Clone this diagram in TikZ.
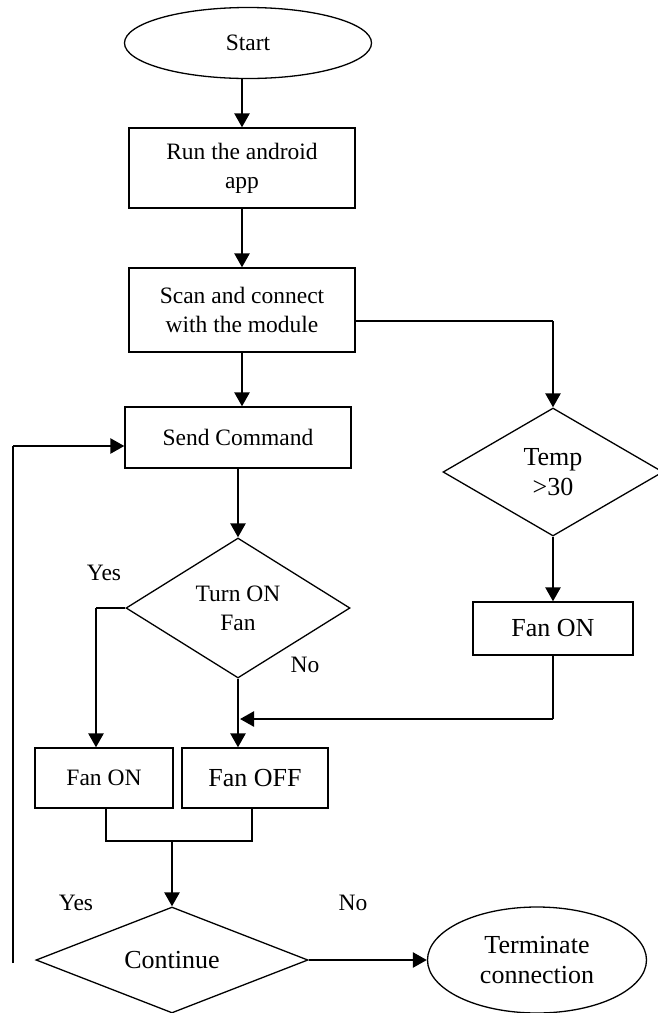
\documentclass[tikz,border=0pt]{standalone}
\usepackage{fontspec}
\setmainfont{Liberation Serif}
\usetikzlibrary{shapes.geometric, arrows.meta}
\newcommand{\flowsmall}{\fontsize{23.5}{29}\selectfont}
\newcommand{\flowlarge}{\fontsize{26}{30}\selectfont}
\tikzset{
  procbox/.style={draw, rectangle, line width=1.3pt, align=center, inner sep=0pt},
  decision/.style={draw, diamond, line width=1.3pt, align=center, inner sep=0pt, aspect=2},
  terminal/.style={draw, ellipse, line width=1.3pt, align=center, inner sep=0pt},
  flowarrow/.style={line width=2.5pt, -{Triangle[length=14pt, width=15pt]}},
  plainline/.style={line width=1.4pt},
  branchlabel/.style={font=\flowsmall, inner sep=0pt}
}

\begin{document}
\begin{tikzpicture}[x=1pt, y=-1pt]
    \useasboundingbox (0,0) rectangle (657,1013);

    % Main column
    \node[terminal, minimum width=247pt, minimum height=71pt, font=\flowsmall]
      (start) at (248,43) {Start};
    \node[procbox, minimum width=226pt, minimum height=80pt, font=\flowsmall]
      (run) at (242,168) {Run the android\\app};
    \node[procbox, minimum width=226pt, minimum height=84pt, font=\flowsmall]
      (scan) at (242,310) {Scan and connect\\with the module};
    \node[procbox, minimum width=226pt, minimum height=61pt, font=\flowsmall]
      (send) at (238,437.5) {Send Command};
    \node[decision, minimum width=224pt, minimum height=140pt, font=\flowsmall]
      (turn) at (238,608) {Turn ON\\Fan};
    \node[procbox, minimum width=138pt, minimum height=60pt, font=\flowsmall]
      (fanon) at (104,778) {Fan ON};
    \node[procbox, minimum width=146pt, minimum height=60pt, font=\flowlarge]
      (fanoff) at (255,778) {Fan OFF};
    \node[decision, minimum width=272pt, minimum height=106pt, font=\flowlarge]
      (cont) at (172,960) {Continue};
    \node[terminal, minimum width=219pt, minimum height=106pt, font=\flowlarge]
      (term) at (537,960) {Terminate\\connection};

    % Temperature branch
    \node[decision, minimum width=220pt, minimum height=128pt, font=\flowlarge]
      (temp) at (553,472) {Temp\\>30};
    \node[procbox, minimum width=160pt, minimum height=53pt, font=\flowlarge]
      (fanr) at (553,628.5) {Fan ON};

    % Bend points
    \coordinate (sbend) at (553,321);
    \coordinate (ybend) at (96,608);
    \coordinate (mbend) at (553,719);
    \coordinate (mjoin) at (240,719);
    \coordinate (cjoin) at (172,841);
    \coordinate (lbot) at (13,963);
    \coordinate (ltop) at (13,446);

    % Straight arrows
    \draw[flowarrow] (start.south -| run.north) -- (run.north);
    \draw[flowarrow] (run) -- (scan);
    \draw[flowarrow] (scan.south) -- (scan.south |- send.north);
    \draw[flowarrow] (send) -- (turn);
    \draw[flowarrow] (turn.south) -- (turn.south |- fanoff.north);
    \draw[flowarrow] (temp) -- (fanr);
    \draw[flowarrow] (cont.east) -- (term.west);

    % Elbow connectors
    \draw[plainline] (scan.east |- sbend) -- (sbend);
    \draw[flowarrow] (sbend) -- (temp.north);
    \draw[plainline] (turn.west) -- (ybend);
    \draw[flowarrow] (ybend) -- (ybend |- fanon.north);
    \draw[plainline] (fanr.south) -- (mbend);
    \draw[flowarrow] (mbend) -- (mjoin);
    \draw[plainline] (fanon.south -| 106,0) |- (cjoin) -| (fanoff.south -| 252,0);
    \draw[flowarrow] (cjoin) -- (cont.north);
    \draw[plainline] (lbot) -- (ltop);
    \draw[flowarrow] (ltop) -- (ltop -| send.west);

    % Branch labels
    \node[branchlabel] (yes1) at (104,573) {Yes};
    \node[branchlabel] (no1) at (305,665) {No};
    \node[branchlabel] (yes2) at (76,903) {Yes};
    \node[branchlabel] (no2) at (353,903) {No};
\end{tikzpicture}
\end{document}
